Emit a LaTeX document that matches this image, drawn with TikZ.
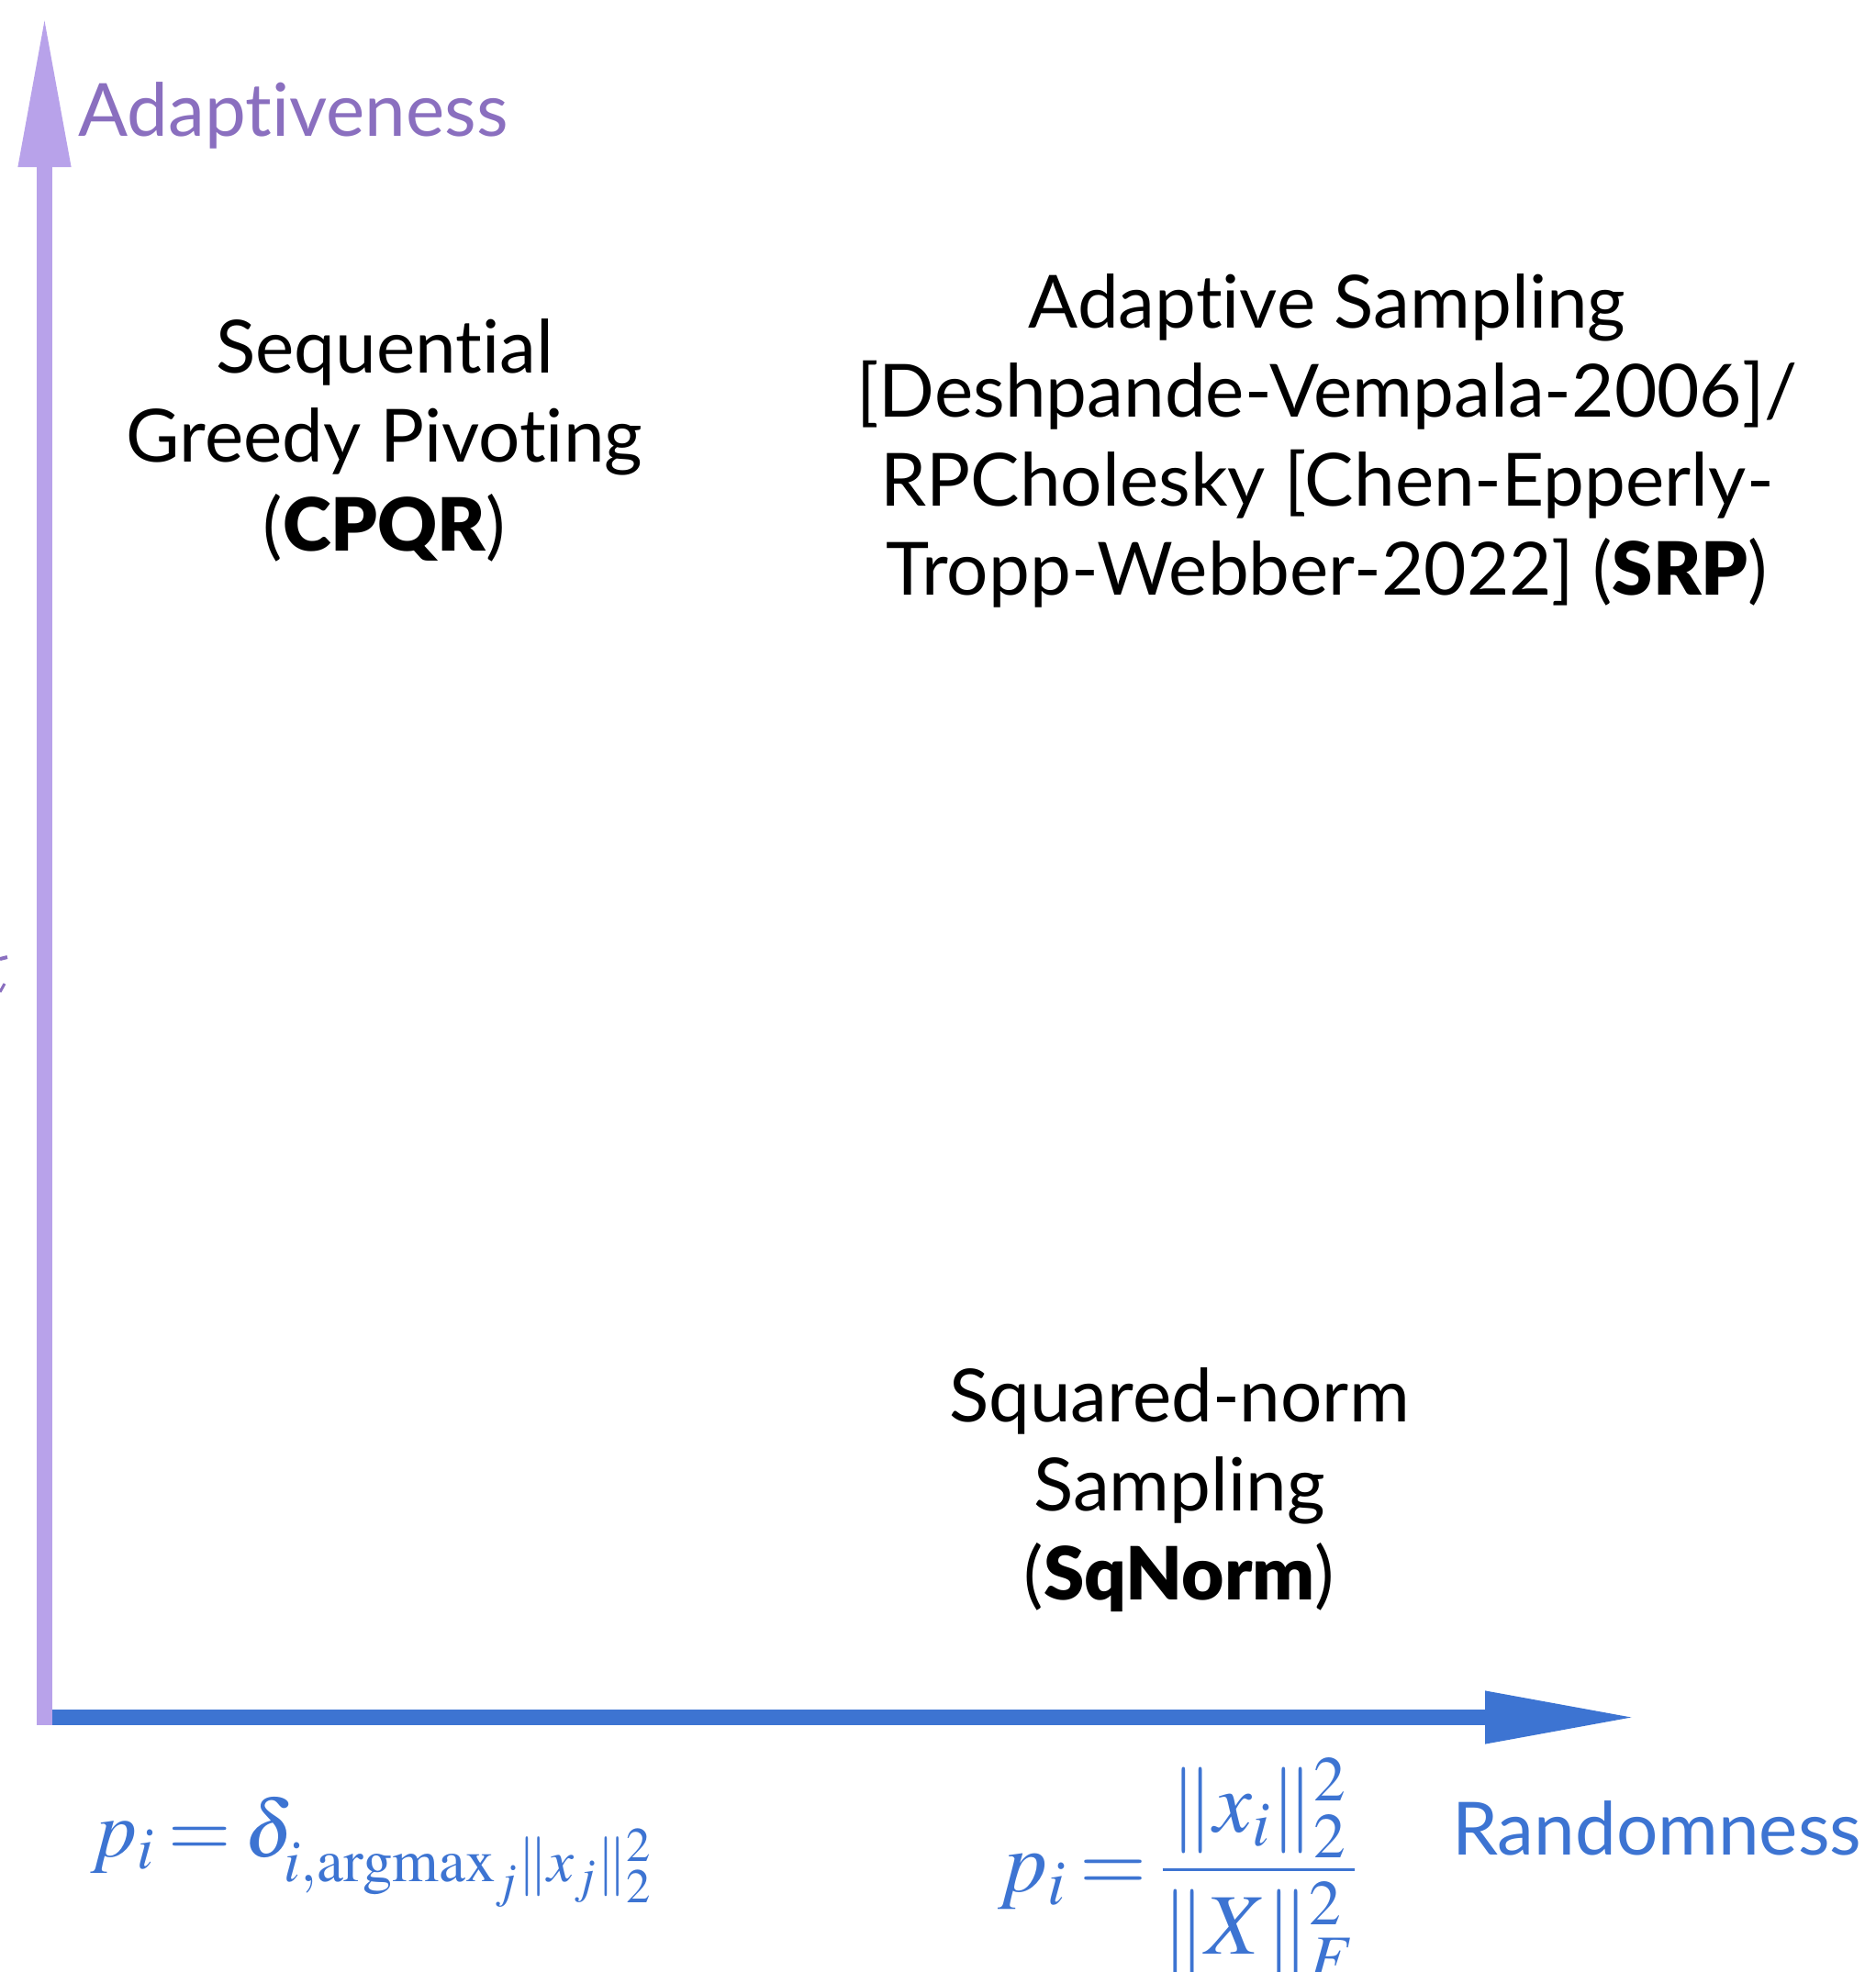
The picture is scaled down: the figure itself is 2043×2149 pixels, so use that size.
\documentclass[tikz,border=0pt]{standalone}
\usepackage{mathptmx}
\usepackage[no-math]{fontspec}
\setmainfont{Lato}[BoldFont={Lato Black}, Ligatures=NoCommon]
\usetikzlibrary{arrows.meta}
\definecolor{axisviolet}{HTML}{B8A2EA}
\definecolor{labelviolet}{HTML}{8A6FBF}
\definecolor{axisblue}{HTML}{3D74D2}
\tikzset{
  axisline/.style={line width=17pt},
  bigtip/.style={-{Triangle[length=166pt,width=53pt]}},
  method/.style={align=center, inner sep=0pt, anchor=base,
    font=\fontsize{80}{97}\selectfont},
  axislabel/.style={inner sep=0pt, anchor=base west,
    font=\fontsize{80}{90}\selectfont},
  formula/.style={inner sep=0pt, text=axisblue},
}
\begin{document}
\begin{tikzpicture}[x=1pt,y=-1pt]
\useasboundingbox (0,0) rectangle (2043,2149);
% axes
\coordinate (origin) at (48.5,1880);
\coordinate (xstart) at (48.5,1871.5);
\coordinate (xend) at (1784,1871.5);
\coordinate (ytop) at (48.5,16);
\draw[axisline, axisblue, bigtip] (xstart) -- (xend);
\draw[axisline, axisviolet, bigtip] (origin) -- (ytop);
% stray fragment on the left margin
\draw[labelviolet, line width=4pt] (0,1045) -- (8,1043);
\draw[labelviolet, line width=3pt] (0,1081) -- (5,1072);
% axis labels
\node[axislabel, text=labelviolet] (adapt) at (85,148) {Adaptiveness};
\node[axislabel, text=axisblue] (rand) at (1582,2021) {Randomness};
% methods (anchored at the baseline of their last line)
\node[method] (cpqr) at (419,600) {Sequential\\Greedy Pivoting\\(\textbf{CPQR})};
\node[method] (srp) at (1446,648) {Adaptive Sampling\\{[Deshpande-Vempala-2006]/}\\RPCholesky [Chen-Epperly-\\Tropp-Webber-2022] (\textbf{SRP})};
\node[method] (sqn) at (1285,1743) {Squared-norm\\Sampling\\(\textbf{SqNorm})};
% sampling probabilities
\node[formula, anchor=base west, font=\fontsize{88}{100}\selectfont] (pgreedy) at (99,2023)
  {$p_i\mskip-1mu=\mskip-1mu\delta_{i,\mathrm{argmax}_j\|x_j\|_2^2}$};
\node[formula, anchor=base west, font=\fontsize{94}{110}\selectfont] (psq) at (1087,2061)
  {$\displaystyle p_i\mskip-1mu=\mskip-1mu\frac{\|x_i\|_2^2}{\|X\|_F^2}$};
\end{tikzpicture}
\end{document}
